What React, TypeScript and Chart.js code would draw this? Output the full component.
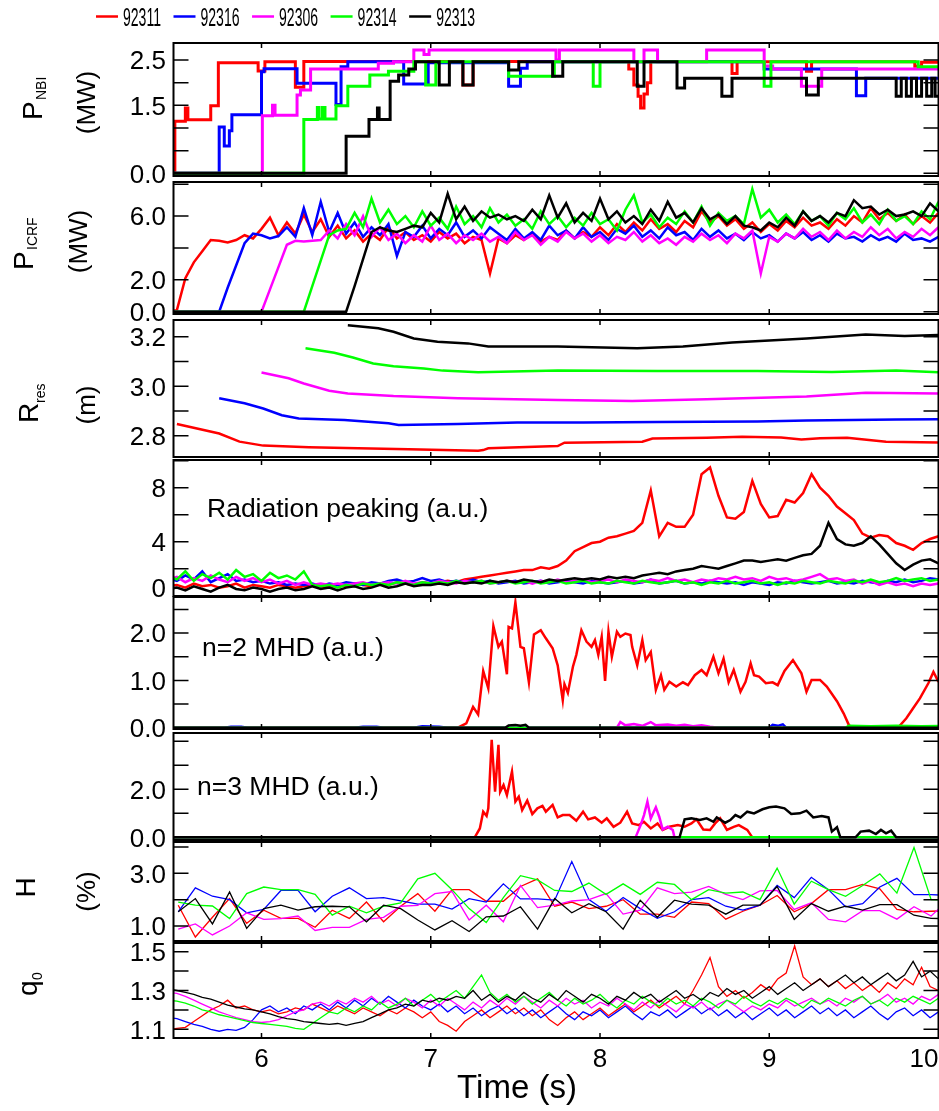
import React, { useEffect, useRef } from "react";
import { Chart, registerables } from "chart.js";

Chart.register(...registerables);

type Pair = [number, number];

// ---------------- shots ----------------
const shotLabels = ["92311", "92316", "92306", "92314", "92313"];
const shotColors = ["#ff0000", "#0000ff", "#ff00ff", "#00ff00", "#000000"];

// ---------------- time axis ----------------
const timeRange: Pair = [5.48, 10.0];
const timeTicks = [6, 7, 8, 9, 10];
const timeTickLabels = ["6", "7", "8", "9", "10"];

// uniformly sampled signals (ICRF power, radiation peaking, q0)
const fastT0 = 5.45;
const fastDt = 0.05;
// H (fast-ion fraction) sampling
const hT0 = 5.508;
const hDt = 0.1011;

// ---------------- P_NBI (MW), step signals [t, P] ----------------
const pnbi92311: Pair[] = [[5.40,0],[5.488,1.15],[5.55,1.44],[5.565,1.18],[5.70,1.49],[5.745,2.44],[5.98,2.26],[6.02,2.46],[6.20,1.9],[6.25,2.47],[7.19,1.95],[7.25,2.47],[8.17,2.3],[8.20,1.95],[8.225,1.7],[8.24,1.44],[8.26,1.75],[8.28,2.0],[8.30,2.47],[8.78,2.2],[8.81,2.46],[9.22,2.25],[9.25,2.46],[9.86,2.36],[9.90,2.45],[10.05,2.45]];
const pnbi92316: Pair[] = [[5.40,0],[5.75,1.02],[5.78,0.6],[5.81,0.94],[5.825,1.29],[6.0,2.24],[6.015,2.31],[6.21,1.99],[6.44,1.52],[6.47,2.35],[6.51,2.46],[6.84,1.97],[6.985,2.44],[7.46,1.92],[7.53,2.32],[7.57,2.46],[8.97,2.3],[9.515,1.71],[9.57,2.1],[10.05,2.1]];
const pnbi92306: Pair[] = [[5.40,0],[6.005,1.27],[6.065,1.5],[6.08,1.28],[6.21,1.73],[6.23,1.84],[6.29,2.3],[6.69,2.43],[6.78,2.46],[6.90,2.72],[6.96,2.62],[6.99,2.72],[7.74,2.5],[7.76,2.72],[8.20,2.46],[8.26,2.72],[8.34,2.46],[8.63,2.72],[8.97,2.37],[9.02,2.3],[9.19,1.92],[9.31,2.3],[10.05,2.3]];
const pnbi92314: Pair[] = [[5.40,0],[6.25,1.19],[6.33,1.45],[6.34,1.2],[6.36,1.45],[6.375,1.2],[6.44,1.49],[6.51,1.92],[6.64,2.17],[6.75,2.25],[6.90,2.46],[6.97,1.95],[7.03,2.46],[7.46,2.14],[7.73,2.46],[7.96,1.92],[8.00,2.46],[8.97,1.92],[9.01,2.46],[9.88,2.35],[10.05,2.35]];
const pnbi92313: Pair[] = [[5.40,0],[6.50,0.82],[6.635,1.19],[6.685,1.44],[6.695,1.19],[6.76,2.03],[6.81,2.17],[6.87,2.3],[6.91,2.46],[7.05,1.95],[7.11,2.46],[7.19,1.95],[7.25,2.46],[7.46,2.28],[7.52,2.46],[7.72,2.14],[7.78,2.46],[8.22,1.92],[8.26,2.46],[8.455,1.88],[8.50,2.1],[8.72,1.7],[8.78,2.1],[9.22,1.73],[9.29,2.1],[9.75,1.7],[9.78,2.1],[9.81,1.7],[9.84,2.1],[9.87,1.7],[9.90,2.1],[9.93,1.7],[9.96,2.1],[9.98,1.7],[10.05,1.7]];
const pnbiTicks = [0, 1.5, 2.5];
const pnbiTickLabels = ["0.0", "1.5", "2.5"];
const pnbiMinor = [0.5, 1.0, 2.0];

// ---------------- P_ICRF (MW), sampled from fastT0 every fastDt ----------------
const icrf92311 = [
  0, 0.1, 2.1, 3.1, 3.8, 4.5, 4.45, 4.35, 4.5, 4.8,
  4.6, 5.2, 5.9, 4.8, 5.6, 4.9, 6.1, 5.0, 5.8, 4.7,
  5.4, 4.6, 5.1, 4.4, 4.9, 4.5, 5.3, 4.6, 5.0, 4.5,
  4.8, 4.4, 5.0, 4.6, 4.9, 4.3, 4.7, 4.5, 2.4, 4.6,
  4.3, 4.8, 4.5, 4.9, 4.4, 4.7, 4.5, 5.1, 4.6, 5.0,
  4.7, 5.3, 4.8, 5.5, 5.0, 5.6, 5.1, 5.8, 5.2, 5.5,
  5.0, 5.7, 5.3, 6.3, 5.6, 6.0, 5.4, 5.8, 5.2, 5.6,
  5.0, 5.5, 5.1, 5.7, 5.3, 5.9, 5.4, 5.6, 5.2, 5.8,
  5.4, 6.0, 5.6, 6.5, 5.8, 6.2, 5.7, 6.1, 5.5, 6.0,
  5.6, 6.2,
];
const icrf92316 = [
  0, 0, 0, 0, 0, 0, 0, 1.5, 2.9, 4.3,
  4.9, 4.8, 4.6, 4.75, 5.3, 4.7, 6.5, 4.8, 6.9, 5.0,
  6.2, 4.9, 5.6, 4.7, 5.3, 4.8, 5.5, 3.5, 5.0, 4.7,
  5.4, 4.6, 5.2, 4.8, 5.6, 4.7, 5.1, 4.6, 5.3, 4.9,
  4.5, 5.2, 4.6, 5.0, 4.5, 5.4, 4.8, 5.1, 4.6, 5.3,
  4.7, 5.0, 4.5, 5.2, 4.9, 5.4, 4.7, 5.1, 4.6, 5.3,
  4.8, 5.0, 4.5, 5.2, 4.7, 5.1, 4.6, 4.9, 4.5, 5.0,
  4.6, 4.8, 4.4, 4.9, 4.6, 5.0, 4.5, 4.8, 4.4, 4.9,
  4.6, 4.7, 4.4, 4.8, 4.5, 4.7, 4.4, 4.9, 4.5, 4.6,
  4.4, 4.7,
];
const icrf92306 = [
  0, 0, 0, 0, 0, 0, 0, 0, 0, 0,
  0, 0, 1.4, 2.8, 4.2, 4.45, 4.4, 4.45, 4.5, 5.1,
  4.6, 5.5, 4.8, 6.0, 4.7, 5.3, 4.5, 4.9, 4.3, 4.8,
  4.4, 5.4, 4.5, 4.9, 4.3, 4.8, 4.5, 4.9, 4.4, 4.7,
  4.3, 5.0, 4.5, 4.8, 4.2, 4.7, 4.4, 5.0, 4.6, 4.9,
  4.4, 4.8, 4.3, 4.7, 4.5, 5.0, 4.4, 4.8, 4.3, 4.6,
  4.2, 4.7, 4.4, 4.9, 4.5, 4.8, 4.3, 4.9, 4.6, 5.1,
  2.4, 4.7, 4.4, 4.9, 4.6, 5.2, 4.7, 5.0, 4.5, 5.1,
  4.6, 5.0, 4.7, 5.3, 4.8, 5.2, 4.6, 5.0, 4.7, 5.2,
  4.8, 5.3,
];
const icrf92314 = [
  0, 0, 0, 0, 0, 0, 0, 0, 0, 0,
  0, 0, 0, 0, 0, 0, 0, 1.6, 3.2, 4.8,
  5.1, 5.2, 6.2, 5.3, 7.1, 5.6, 6.4, 5.5, 6.0, 5.3,
  6.3, 5.4, 5.9, 5.2, 6.6, 5.5, 6.0, 5.3, 6.5, 5.6,
  6.1, 5.4, 5.8, 5.2, 6.3, 5.5, 6.0, 5.3, 5.9, 5.4,
  6.2, 5.5, 5.8, 5.1, 6.4, 7.3, 5.6, 6.1, 5.3, 5.9,
  5.5, 6.3, 5.6, 6.6, 5.4, 6.2, 5.7, 6.0, 5.5, 7.7,
  5.9, 6.4, 5.6, 6.1, 5.5, 6.3, 5.7, 6.0, 5.4, 6.2,
  5.8, 6.5, 5.6, 6.1, 5.5, 6.4, 5.7, 6.0, 5.5, 6.3,
  5.8, 6.9,
];
const icrf92313 = [
  0, 0, 0, 0, 0, 0, 0, 0, 0, 0,
  0, 0, 0, 0, 0, 0, 0, 0, 0, 0,
  0, 0, 1.6, 3.3, 5.0, 5.3, 5.1, 5.0, 5.2, 5.4,
  5.3, 6.2, 5.6, 7.4, 5.8, 6.6, 5.7, 6.3, 5.9, 6.1,
  5.8, 6.0, 5.7, 6.4, 5.8, 7.3, 5.9, 6.8, 5.6, 6.2,
  5.7, 7.1, 5.8, 6.3, 5.6, 6.0, 5.5, 6.4, 5.7, 6.9,
  5.9, 6.2, 5.6, 6.5, 5.8, 6.1, 5.5, 6.0, 5.4, 5.3,
  5.1, 5.6, 5.3, 5.9, 5.4, 6.3, 5.7, 6.0, 5.6, 6.2,
  6.0, 7.0, 6.5, 6.6, 6.1, 6.4, 6.0, 6.1, 6.3, 6.0,
  6.8, 6.3,
];
const icrfTicks = [0, 2, 6];
const icrfTickLabels = ["0.0", "2.0", "6.0"];
const icrfMinor = [4, 8];

// ---------------- R_res (m), [t, R] ----------------
const rres92311: Pair[] = [[5.50,2.847],[5.75,2.809],[5.87,2.776],[6.01,2.76],[6.28,2.753],[6.57,2.749],[6.87,2.745],[7.28,2.739],[7.31,2.742],[7.34,2.749],[7.75,2.758],[7.79,2.772],[8.25,2.776],[8.31,2.789],[8.63,2.792],[8.84,2.796],[9.07,2.793],[9.19,2.785],[9.30,2.79],[9.46,2.792],[9.69,2.776],[10.0,2.773]];
const rres92316: Pair[] = [[5.75,2.951],[5.9,2.931],[6.01,2.91],[6.12,2.883],[6.22,2.87],[6.49,2.863],[6.75,2.85],[6.81,2.843],[7.16,2.847],[7.51,2.853],[7.9,2.853],[8.34,2.855],[8.93,2.857],[9.22,2.861],[9.75,2.866],[10.0,2.867]];
const rres92306: Pair[] = [[6.0,3.055],[6.16,3.032],[6.25,3.011],[6.4,2.982],[6.51,2.971],[6.78,2.96],[7.16,2.951],[7.75,2.944],[8.19,2.94],[8.63,2.947],[9.22,2.958],[9.57,2.974],[10.0,2.971]];
const rres92314: Pair[] = [[6.26,3.153],[6.43,3.135],[6.54,3.116],[6.66,3.092],[6.78,3.081],[6.96,3.072],[7.07,3.063],[7.28,3.056],[7.75,3.063],[8.34,3.061],[8.93,3.061],[9.37,3.057],[9.75,3.063],[10.0,3.056]];
const rres92313: Pair[] = [[6.51,3.246],[6.69,3.234],[6.78,3.22],[6.9,3.193],[7.04,3.18],[7.22,3.173],[7.34,3.16],[7.75,3.16],[8.22,3.153],[8.49,3.16],[8.78,3.177],[9.22,3.193],[9.57,3.209],[9.8,3.203],[10.0,3.207]];
const rresTicks = [2.8, 3.0, 3.2];
const rresTickLabels = ["2.8", "3.0", "3.2"];
const rresMinor = [2.9, 3.1];

// ---------------- radiation peaking (a.u.), sampled ----------------
const rad92311 = [
  0.7, 0.8, 0.6, 0.9, 0.7, 0.8, 0.6, 0.7, 0.9, 0.6,
  0.8, 0.7, 0.6, 0.8, 0.7, 0.6, 0.7, 0.8, 0.7, 0.6,
  0.8, 0.7, 0.9, 0.8, 0.7, 0.9, 0.8, 1.0, 0.9, 0.8,
  1.0, 0.9, 1.0, 1.1, 1.0, 1.2, 1.3, 1.4, 1.5, 1.6,
  1.7, 1.8, 1.9, 1.9, 2.1, 2.0, 2.2, 2.6, 3.3, 3.6,
  3.9, 4.0, 4.3, 4.4, 4.6, 4.8, 5.4, 7.8, 4.4, 5.4,
  5.1, 5.1, 6.0, 9.0, 9.5, 7.4, 5.8, 5.7, 6.2, 8.5,
  6.8, 5.8, 5.9, 7.1, 6.9, 7.6, 9.0, 8.0, 7.4, 6.6,
  6.1, 5.6, 4.6, 4.3, 4.5, 4.4, 3.9, 3.7, 3.4, 3.9,
  4.2, 4.4,
];
const rad92316 = [
  1.3, 1.1, 1.5, 1.2, 1.8, 1.0, 1.3, 1.6, 1.1, 1.2,
  1.0, 1.1, 0.9, 1.0, 0.8, 0.9, 0.8, 0.9, 0.7, 0.9,
  0.8, 1.0, 0.9, 0.8, 1.0, 0.9, 1.1, 1.2, 1.0, 1.1,
  1.3, 1.1, 1.2, 1.0, 1.1, 1.0, 1.2, 1.0, 1.1, 0.9,
  1.0, 1.1, 0.9, 1.0, 1.1, 0.9, 1.0, 1.1, 1.0, 0.9,
  1.1, 1.0, 0.9, 1.0, 1.1, 0.9, 1.0, 1.2, 0.9, 1.0,
  1.1, 0.9, 1.0, 0.9, 1.1, 1.0, 0.9, 1.0, 0.8, 1.0,
  0.9, 0.8, 1.0, 0.9, 1.1, 1.0, 0.9, 1.0, 1.1, 0.9,
  1.0, 0.9, 1.1, 1.0, 0.9, 1.1, 1.0, 1.2, 1.0, 1.1,
  1.3, 1.2,
];
const rad92306 = [
  1.2, 1.4, 1.0, 1.3, 1.1, 1.5, 1.2, 1.0, 1.4, 1.1,
  1.3, 1.0, 1.2, 0.9, 1.1, 0.8, 1.0, 0.8, 0.9, 0.8,
  0.9, 0.8, 0.9, 1.0, 0.8, 0.9, 1.0, 0.9, 1.1, 0.9,
  1.0, 0.9, 1.1, 1.0, 0.9, 1.1, 1.0, 1.1, 0.9, 1.0,
  1.1, 1.0, 1.1, 0.9, 1.1, 1.0, 1.2, 1.0, 1.1, 1.2,
  1.0, 1.1, 1.2, 1.0, 1.2, 1.1, 1.0, 1.2, 1.1, 1.3,
  1.1, 1.2, 1.0, 1.2, 1.1, 1.3, 1.2, 1.4, 1.2, 1.3,
  1.1, 1.4, 1.2, 1.3, 1.1, 1.2, 1.4, 1.6, 1.2, 1.3,
  1.1, 1.2, 0.9, 1.1, 0.8, 1.0, 0.8, 0.9, 0.7, 0.9,
  0.8, 0.9,
];
const rad92314 = [
  1.5, 1.2, 1.8, 1.1, 1.6, 1.3, 1.7, 1.2, 1.9, 1.4,
  1.6, 1.1, 1.7, 1.3, 1.5, 1.2, 1.8, 0.8, 0.7, 0.8,
  0.6, 0.8, 0.7, 0.9, 0.8, 0.9, 0.8, 1.0, 0.9, 0.8,
  1.0, 0.9, 1.0, 0.9, 1.1, 0.9, 1.0, 1.1, 0.9, 1.0,
  1.1, 0.9, 1.0, 1.1, 0.9, 1.0, 1.1, 0.9, 1.0, 1.1,
  0.9, 1.0, 0.9, 1.1, 1.0, 0.9, 1.1, 1.0, 0.9, 1.0,
  1.1, 0.9, 1.0, 0.8, 1.0, 0.9, 1.1, 0.9, 1.0, 1.1,
  0.9, 1.0, 0.8, 1.0, 0.9, 1.1, 1.0, 0.9, 1.1, 1.0,
  0.9, 1.1, 1.0, 1.2, 1.0, 1.1, 1.3, 1.1, 1.2, 1.3,
  1.1, 1.2,
];
const rad92313 = [
  0.5, 0.6, 0.4, 0.7, 0.5, 0.3, 0.6, 0.8, 0.5, 0.4,
  0.6, 0.5, 0.3, 0.5, 0.6, 0.4, 0.5, 0.7, 0.5, 0.6,
  0.4, 0.6, 0.7, 0.5, 0.6, 0.8, 0.6, 0.7, 0.9, 0.7,
  0.8, 0.8, 0.9, 0.8, 1.0, 0.9, 1.0, 0.9, 1.1, 1.0,
  1.1, 1.0, 1.2, 1.1, 1.0, 1.2, 1.1, 1.2, 1.3, 1.2,
  1.3, 1.2, 1.4, 1.3, 1.4, 1.3, 1.5, 1.6, 1.7, 1.6,
  1.8, 1.9, 2.0, 2.2, 2.1, 2.0, 2.2, 2.4, 2.6, 2.6,
  2.5, 2.6, 2.7, 2.6, 2.8, 3.0, 3.1, 3.7, 5.4, 4.2,
  3.8, 3.7, 3.9, 4.4, 3.8, 3.1, 2.4, 1.9, 2.3, 2.6,
  2.7, 2.4,
];
const radTicks = [0, 4, 8];
const radTickLabels = ["0", "4", "8"];
const radMinor = [2, 6, 10];

// ---------------- n=2 MHD amplitude (a.u.), [t, A] ----------------
const n2m92311: Pair[] = [[5.40,0],[7.16,0],[7.21,0.09],[7.25,0.44],[7.28,0.28],[7.31,1.2],[7.34,0.83],[7.37,2.15],[7.40,1.71],[7.42,1.82],[7.45,1.13],[7.46,2.13],[7.48,2.1],[7.50,2.65],[7.53,1.71],[7.55,1.68],[7.58,0.96],[7.61,1.97],[7.65,2.06],[7.68,1.89],[7.72,1.68],[7.75,1.32],[7.78,0.58],[7.79,0.92],[7.81,0.74],[7.84,1.29],[7.86,1.54],[7.89,2.06],[7.92,1.82],[7.95,1.71],[7.97,1.85],[7.99,1.54],[8.01,1.92],[8.03,0.99],[8.05,2.03],[8.07,1.5],[8.10,2.03],[8.12,1.92],[8.15,1.99],[8.18,1.96],[8.19,1.71],[8.22,1.32],[8.25,1.85],[8.27,1.43],[8.30,1.6],[8.33,0.8],[8.36,1.11],[8.38,0.8],[8.41,0.97],[8.45,0.87],[8.49,0.96],[8.52,0.9],[8.56,1.11],[8.60,1.22],[8.63,1.11],[8.67,1.5],[8.70,1.15],[8.73,1.46],[8.76,0.96],[8.79,1.22],[8.83,0.76],[8.86,0.97],[8.89,1.36],[8.91,1.11],[8.94,1.08],[8.98,0.94],[9.02,0.96],[9.05,0.9],[9.09,1.2],[9.14,1.43],[9.19,1.15],[9.22,0.76],[9.25,1.01],[9.30,1.01],[9.34,0.87],[9.40,0.56],[9.44,0.30],[9.47,0.06],[9.49,0],[9.76,0],[9.81,0.2],[9.85,0.41],[9.89,0.62],[9.94,0.94],[9.97,1.18],[10.0,0.97],[10.05,1.0]];
const n2m92316: Pair[] = [[5.40,0],[5.78,0],[5.82,0.02],[5.88,0.02],[5.92,0],[6.55,0],[6.6,0.02],[6.68,0.02],[6.72,0],[6.9,0],[6.95,0.03],[7.05,0.02],[7.1,0],[9.0,0],[9.02,0.06],[9.05,0.04],[9.08,0.07],[9.1,0],[10.05,0]];
const n2m92306: Pair[] = [[5.40,0],[8.1,0],[8.12,0.12],[8.15,0.05],[8.2,0.08],[8.25,0.04],[8.3,0.12],[8.33,0.05],[8.4,0.07],[8.45,0.04],[8.5,0.06],[8.55,0.03],[8.6,0.05],[8.65,0.02],[8.7,0],[10.05,0]];
const n2m92314: Pair[] = [[5.40,0],[9.45,0],[9.47,0.04],[9.6,0.03],[9.75,0.04],[9.9,0.03],[10.05,0.04]];
const n2m92313: Pair[] = [[5.40,0],[7.44,0],[7.46,0.05],[7.5,0.06],[7.53,0.04],[7.56,0.06],[7.58,0],[10.05,0]];
const n2Ticks = [0, 1, 2];
const n2TickLabels = ["0.0", "1.0", "2.0"];
const n2Minor = [0.5, 1.5, 2.5];

// ---------------- n=3 MHD amplitude (a.u.), [t, A] ----------------
const n3m92311: Pair[] = [[5.40,0],[7.26,0],[7.29,0.37],[7.31,1.07],[7.33,0.89],[7.34,1.21],[7.36,4.06],[7.38,1.9],[7.40,3.85],[7.41,1.9],[7.43,2.18],[7.45,1.76],[7.48,2.74],[7.50,1.49],[7.52,1.69],[7.54,1.14],[7.57,1.53],[7.60,0.97],[7.63,1.21],[7.66,1.31],[7.68,1.07],[7.72,1.35],[7.75,0.83],[7.78,0.93],[7.82,0.93],[7.86,0.69],[7.90,1.07],[7.93,0.75],[7.97,0.83],[8.01,0.61],[8.04,0.79],[8.08,0.44],[8.12,0.61],[8.16,1.07],[8.19,0.58],[8.23,0.51],[8.26,0.65],[8.30,0.37],[8.34,0.58],[8.37,0.31],[8.41,0.44],[8.46,0.51],[8.50,0.44],[8.54,0.58],[8.57,0.75],[8.61,0.33],[8.65,0.31],[8.68,0.58],[8.71,0.79],[8.75,0.31],[8.79,0.44],[8.82,0.51],[8.87,0.31],[8.90,0],[10.05,0]];
const n3m92316: Pair[] = [[5.40,0],[10.05,0]];
const n3m92306: Pair[] = [[5.40,0],[8.21,0],[8.24,0.51],[8.26,0.93],[8.28,1.49],[8.30,0.79],[8.33,1.25],[8.35,0.86],[8.37,0.33],[8.40,0.44],[8.43,0.31],[8.44,0],[10.05,0]];
const n3m92314: Pair[] = [[5.40,0],[10.05,0]];
const n3m92313: Pair[] = [[5.40,0],[8.47,0],[8.50,0.75],[8.54,0.79],[8.59,0.72],[8.63,0.79],[8.67,0.65],[8.69,0.83],[8.74,0.61],[8.77,0.72],[8.80,0.93],[8.83,0.83],[8.87,1.07],[8.91,1.0],[8.96,1.17],[9.00,1.25],[9.04,1.28],[9.09,1.21],[9.13,0.97],[9.18,1.0],[9.22,1.11],[9.26,0.83],[9.31,0.89],[9.35,0.83],[9.37,0.24],[9.40,0.42],[9.42,0],[9.51,0],[9.54,0.24],[9.59,0.28],[9.63,0.14],[9.66,0.31],[9.69,0.17],[9.72,0.28],[9.75,0],[10.05,0]];
const n3Ticks = [0, 2];
const n3TickLabels = ["0.0", "2.0"];
const n3Minor = [1, 3, 4];

// ---------------- H (%), sampled from hT0 every hDt ----------------
const h92311 = [1.79, 0.58, 1.33, 2.04, 1.10, 1.60, 1.29, 1.29, 0.95, 1.60, 1.29, 1.91, 1.16, 1.75, 2.23, 1.56, 2.38, 2.38, 1.94, 1.94, 2.50, 2.79, 1.75, 1.91, 1.66, 1.75, 2.00, 1.45, 1.45, 1.33, 1.91, 1.85, 1.26, 1.56, 1.79, 2.16, 1.54, 1.85, 2.38, 2.38, 2.58, 2.41, 1.63, 1.54, 1.56, 1.58];
const h92316 = [1.54, 2.45, 2.13, 2.00, 1.50, 1.63, 2.35, 2.35, 1.54, 2.13, 2.45, 2.04, 2.08, 1.95, 1.83, 1.83, 1.64, 2.04, 1.91, 2.60, 2.03, 2.03, 1.98, 3.45, 2.00, 1.56, 2.08, 1.66, 1.29, 1.54, 2.00, 2.08, 1.75, 1.60, 1.79, 2.54, 2.08, 2.85, 2.38, 1.73, 1.85, 2.48, 2.81, 2.19, 2.19, 2.16];
const h92306 = [0.88, 1.08, 0.66, 1.00, 1.50, 1.25, 1.28, 1.38, 0.83, 0.95, 0.95, 1.25, 1.33, 1.75, 1.78, 2.23, 2.31, 1.23, 1.79, 1.16, 2.54, 1.70, 1.79, 1.95, 2.00, 2.23, 1.45, 1.60, 2.45, 2.23, 2.29, 2.50, 2.20, 2.00, 2.33, 2.35, 1.63, 1.88, 1.25, 1.16, 1.58, 1.58, 1.26, 1.73, 1.38, 1.98];
const h92314 = [1.91, 1.79, 1.76, 1.28, 2.23, 2.48, 2.38, 2.38, 2.20, 1.41, 1.75, 1.50, 1.75, 1.88, 2.79, 3.00, 2.38, 1.66, 1.13, 2.08, 2.91, 2.75, 2.35, 2.31, 2.63, 2.20, 2.60, 2.20, 2.66, 2.58, 2.00, 2.38, 2.25, 2.29, 2.00, 3.20, 1.83, 2.70, 2.38, 2.13, 2.54, 2.98, 2.25, 3.98, 2.00, 1.98];
const h92313 = [1.54, 2.04, 1.08, 2.29, 0.91, 1.66, 1.79, 1.60, 1.73, 1.75, 1.73, 1.16, 1.79, 1.66, 1.23, 0.85, 1.20, 0.79, 1.35, 1.38, 1.73, 0.88, 2.04, 1.50, 1.85, 1.54, 0.88, 1.98, 1.33, 1.98, 1.83, 1.79, 1.45, 1.79, 1.79, 2.50, 1.25, 1.85, 1.56, 1.75, 1.60, 1.81, 1.81, 1.41, 1.29, 1.28];
const hTicks = [1, 3];
const hTickLabels = ["1.0", "3.0"];
const hMinor = [2, 4];

// ---------------- q0, sampled from fastT0 every fastDt ----------------
const q92311 = [
  1.10, 1.105, 1.11, 1.14, 1.17, 1.20, 1.22, 1.25, 1.21, 1.22,
  1.20, 1.19, 1.20, 1.18, 1.19, 1.21, 1.20, 1.23, 1.21, 1.19,
  1.22, 1.20, 1.18, 1.21, 1.19, 1.17, 1.20, 1.18, 1.21, 1.19,
  1.16, 1.19, 1.14, 1.12, 1.09, 1.14, 1.17, 1.20, 1.16, 1.19,
  1.22, 1.18, 1.21, 1.17, 1.20, 1.15, 1.12, 1.16, 1.19, 1.15,
  1.18, 1.21, 1.17, 1.20, 1.23, 1.19, 1.22, 1.25, 1.21, 1.24,
  1.27, 1.23, 1.30, 1.38, 1.47, 1.32, 1.27, 1.30, 1.26, 1.29,
  1.33, 1.30, 1.36, 1.39, 1.53, 1.37, 1.33, 1.36, 1.32, 1.35,
  1.31, 1.34, 1.30, 1.33, 1.29, 1.34, 1.31, 1.36, 1.33, 1.42,
  1.32, 1.30,
];
const q92316 = [
  1.16, 1.155, 1.14, 1.125, 1.115, 1.10, 1.09, 1.10, 1.095, 1.11,
  1.15, 1.20, 1.22, 1.19, 1.21, 1.18, 1.22, 1.20, 1.23, 1.20,
  1.24, 1.21, 1.25, 1.22, 1.26, 1.23, 1.27, 1.24, 1.21, 1.25,
  1.22, 1.20, 1.23, 1.19, 1.22, 1.18, 1.21, 1.17, 1.20, 1.22,
  1.18, 1.21, 1.17, 1.20, 1.16, 1.19, 1.22, 1.18, 1.15, 1.19,
  1.17, 1.20, 1.16, 1.19, 1.22, 1.18, 1.15, 1.19, 1.17, 1.20,
  1.16, 1.19, 1.22, 1.18, 1.21, 1.17, 1.20, 1.16, 1.19, 1.15,
  1.18, 1.21, 1.17, 1.20, 1.16, 1.19, 1.22, 1.18, 1.21, 1.17,
  1.20, 1.16, 1.19, 1.22, 1.18, 1.15, 1.19, 1.21, 1.17, 1.20,
  1.16, 1.19,
];
const q92306 = [
  1.29, 1.285, 1.27, 1.25, 1.23, 1.21, 1.19, 1.175, 1.16, 1.15,
  1.14, 1.135, 1.14, 1.15, 1.17, 1.19, 1.20, 1.23, 1.24, 1.22,
  1.25, 1.23, 1.26, 1.24, 1.27, 1.23, 1.25, 1.22, 1.26, 1.24,
  1.21, 1.25, 1.22, 1.26, 1.23, 1.20, 1.24, 1.21, 1.25, 1.22,
  1.26, 1.23, 1.27, 1.24, 1.21, 1.25, 1.22, 1.26, 1.23, 1.25,
  1.21, 1.24, 1.22, 1.26, 1.23, 1.20, 1.24, 1.21, 1.25, 1.22,
  1.19, 1.23, 1.21, 1.24, 1.20, 1.23, 1.25, 1.22, 1.19, 1.22,
  1.20, 1.23, 1.21, 1.25, 1.22, 1.24, 1.26, 1.23, 1.25, 1.22,
  1.26, 1.24, 1.27, 1.23, 1.25, 1.28, 1.24, 1.26, 1.23, 1.27,
  1.25, 1.28,
];
const q92314 = [
  1.25, 1.245, 1.235, 1.22, 1.20, 1.19, 1.175, 1.165, 1.155, 1.145,
  1.135, 1.13, 1.125, 1.12, 1.115, 1.105, 1.10, 1.13, 1.16, 1.19,
  1.18, 1.21, 1.19, 1.22, 1.20, 1.24, 1.21, 1.23, 1.26, 1.22,
  1.25, 1.28, 1.24, 1.27, 1.30, 1.26, 1.32, 1.38, 1.29, 1.25,
  1.28, 1.24, 1.27, 1.23, 1.26, 1.29, 1.25, 1.22, 1.26, 1.23,
  1.25, 1.28, 1.24, 1.21, 1.25, 1.23, 1.27, 1.24, 1.22, 1.26,
  1.23, 1.25, 1.22, 1.26, 1.24, 1.21, 1.25, 1.23, 1.27, 1.24,
  1.22, 1.25, 1.23, 1.26, 1.24, 1.21, 1.25, 1.23, 1.26, 1.24,
  1.22, 1.25, 1.27, 1.23, 1.25, 1.22, 1.26, 1.24, 1.27, 1.25,
  1.23, 1.26,
];
const q92313 = [
  1.31, 1.30, 1.29, 1.28, 1.265, 1.255, 1.24, 1.225, 1.215, 1.205,
  1.20, 1.19, 1.18, 1.165, 1.155, 1.15, 1.14, 1.135, 1.13, 1.125,
  1.13, 1.12, 1.13, 1.14, 1.16, 1.18, 1.20, 1.21, 1.23, 1.22,
  1.25, 1.24, 1.26, 1.25, 1.27, 1.26, 1.30, 1.25, 1.28, 1.24,
  1.27, 1.25, 1.29, 1.26, 1.24, 1.28, 1.25, 1.30, 1.27, 1.24,
  1.28, 1.26, 1.23, 1.27, 1.25, 1.29, 1.26, 1.28, 1.24, 1.27,
  1.30, 1.26, 1.28, 1.25, 1.29, 1.27, 1.31, 1.28, 1.30, 1.26,
  1.29, 1.32, 1.28, 1.31, 1.34, 1.30, 1.33, 1.36, 1.32, 1.35,
  1.38, 1.34, 1.37, 1.33, 1.36, 1.39, 1.35, 1.38, 1.45, 1.37,
  1.40, 1.36,
];
const qTicks = [1.1, 1.3, 1.5];
const qTickLabels = ["1.1", "1.3", "1.5"];
const qMinor = [1.2, 1.4];

// ---------------- helpers ----------------
const sampled = (t0: number, dt: number, vals: number[]): Pair[] =>
  vals.map((v, i) => [t0 + i * dt, v] as Pair);

const FONT = '"Liberation Sans", Arial, Helvetica, sans-serif';
const PAGE_W = 939;
const PLOT_LEFT = 173.5;
const PLOT_RIGHT = 938.5;

interface Title { text: string; size: number; x: number; y: number; align: CanvasTextAlign; }
interface PanelSpec {
  key: string;
  series: Pair[][];
  yRange: Pair;
  ticks: number[];
  tickLabels: string[];
  minor: number[];
  lineWidth: number;
  stepped?: boolean;
  top: number; bottom: number; canvasTop: number; canvasBottom: number;
  titles: Title[];
  note?: { text: string; x: number; y: number };
  labelLift?: number[];
  legend?: boolean;
  timeAxis?: boolean;
}

const panels: PanelSpec[] = [
  {
    key: "pnbi", series: [pnbi92311, pnbi92316, pnbi92306, pnbi92314, pnbi92313],
    yRange: [-0.06, 2.876], ticks: pnbiTicks, tickLabels: pnbiTickLabels, minor: pnbiMinor,
    lineWidth: 3, stepped: true, top: 43, bottom: 176, canvasTop: 0, canvasBottom: 200, legend: true,
    titles: [
      { text: "P", size: 28, x: 42, y: 120, align: "left" },
      { text: "NBI", size: 14, x: 46, y: 100, align: "left" },
      { text: "(MW)", size: 26, x: 95, y: 102.5, align: "center" },
    ],
  },
  {
    key: "icrf",
    series: [icrf92311, icrf92316, icrf92306, icrf92314, icrf92313].map((v) => sampled(fastT0, fastDt, v)),
    yRange: [-0.144, 8.14], ticks: icrfTicks, tickLabels: icrfTickLabels, minor: icrfMinor,
    lineWidth: 2.5, top: 182, bottom: 314, canvasTop: 160, canvasBottom: 336,
    titles: [
      { text: "P", size: 28, x: 33, y: 270, align: "left" },
      { text: "ICRF", size: 14, x: 37, y: 250, align: "left" },
      { text: "(MW)", size: 26, x: 87, y: 241.5, align: "center" },
    ],
  },
  {
    key: "rres", series: [rres92311, rres92316, rres92306, rres92314, rres92313],
    yRange: [2.714, 3.2675], ticks: rresTicks, tickLabels: rresTickLabels, minor: rresMinor,
    lineWidth: 2.5, top: 320, bottom: 457, canvasTop: 298, canvasBottom: 478,
    titles: [
      { text: "R", size: 28, x: 38, y: 423, align: "left" },
      { text: "res", size: 14, x: 45, y: 403, align: "left" },
      { text: "(m)", size: 26, x: 95, y: 405, align: "center" },
    ],
  },
  {
    key: "rad",
    series: [rad92311, rad92316, rad92306, rad92314, rad92313].map((v) => sampled(fastT0, fastDt, v)),
    yRange: [-0.02, 10.05], ticks: radTicks, tickLabels: radTickLabels, minor: radMinor,
    lineWidth: 2.5, top: 460, bottom: 596, canvasTop: 440, canvasBottom: 616,
    titles: [], labelLift: [8, 0, 0],
    note: { text: "Radiation peaking (a.u.)", x: 207, y: 517 },
  },
  {
    key: "n2", series: [n2m92311, n2m92316, n2m92306, n2m92314, n2m92313],
    yRange: [-0.027, 2.763], ticks: n2Ticks, tickLabels: n2TickLabels, minor: n2Minor,
    lineWidth: 2.5, top: 597, bottom: 729, canvasTop: 577, canvasBottom: 750,
    titles: [], note: { text: "n=2 MHD (a.u.)", x: 202, y: 656 },
  },
  {
    key: "n3", series: [n3m92311, n3m92316, n3m92306, n3m92314, n3m92313],
    yRange: [-0.11, 4.346], ticks: n3Ticks, tickLabels: n3TickLabels, minor: n3Minor,
    lineWidth: 2.5, top: 733, bottom: 840, canvasTop: 712, canvasBottom: 860,
    titles: [], note: { text: "n=3 MHD (a.u.)", x: 197, y: 795 },
  },
  {
    key: "h",
    series: [h92311, h92316, h92306, h92314, h92313].map((v) => sampled(hT0, hDt, v)),
    yRange: [0.43, 4.19], ticks: hTicks, tickLabels: hTickLabels, minor: hMinor,
    lineWidth: 1.3, top: 842, bottom: 941, canvasTop: 822, canvasBottom: 962,
    titles: [
      { text: "H", size: 28, x: 35, y: 887.5, align: "center" },
      { text: "(%)", size: 26, x: 95, y: 891.5, align: "center" },
    ],
  },
  {
    key: "q0",
    series: [q92311, q92316, q92306, q92314, q92313].map((v) => sampled(fastT0, fastDt, v)),
    yRange: [1.0552, 1.5448], ticks: qTicks, tickLabels: qTickLabels, minor: qMinor,
    lineWidth: 1.3, top: 943, bottom: 1038, canvasTop: 922, canvasBottom: 1111, timeAxis: true,
    titles: [
      { text: "q", size: 28, x: 37, y: 996, align: "left" },
      { text: "0", size: 14, x: 42, y: 980, align: "left" },
    ],
  },
];

function makeDecor(p: PanelSpec) {
  return {
    id: "decor",
    afterDraw(chart: any) {
      const { ctx, chartArea: a } = chart;
      const xs = chart.scales.x;
      const ys = chart.scales.y;
      const oy = p.canvasTop;
      ctx.save();
      ctx.strokeStyle = "#000";
      ctx.fillStyle = "#000";

      // frame
      ctx.lineWidth = 2;
      ctx.strokeRect(a.left, a.top, a.right - a.left, a.bottom - a.top);

      // inward tick marks
      ctx.lineWidth = 1.5;
      ctx.beginPath();
      [...p.ticks, ...p.minor].forEach((v) => {
        const y = ys.getPixelForValue(v);
        if (y < a.top - 1 || y > a.bottom + 1) return;
        ctx.moveTo(a.left, y); ctx.lineTo(a.left + 15, y);
        ctx.moveTo(a.right - 15, y); ctx.lineTo(a.right, y);
      });
      timeTicks.forEach((t) => {
        const x = xs.getPixelForValue(t);
        if (x > a.right - 2) return;
        ctx.moveTo(x, a.top); ctx.lineTo(x, a.top + 5);
        ctx.moveTo(x, a.bottom - 5); ctx.lineTo(x, a.bottom);
      });
      ctx.stroke();

      // y tick labels
      ctx.font = `26px ${FONT}`;
      ctx.textAlign = "right";
      ctx.textBaseline = "alphabetic";
      p.ticks.forEach((v, i) => {
        const y = ys.getPixelForValue(v);
        const lift = p.labelLift ? p.labelLift[i] : 0;
        ctx.fillText(p.tickLabels[i], a.left - 7.5, y + 9.3 - lift);
      });

      // rotated axis titles
      p.titles.forEach((t) => {
        ctx.save();
        ctx.translate(t.x, t.y - oy);
        ctx.rotate(-Math.PI / 2);
        ctx.font = `${t.size}px ${FONT}`;
        ctx.textAlign = t.align;
        ctx.textBaseline = "alphabetic";
        ctx.fillText(t.text, 0, 0);
        ctx.restore();
      });

      // in-panel note
      if (p.note) {
        ctx.font = `26.5px ${FONT}`;
        ctx.textAlign = "left";
        ctx.fillText(p.note.text, p.note.x, p.note.y - oy);
      }

      // time axis labels and title
      if (p.timeAxis) {
        ctx.font = `26px ${FONT}`;
        timeTicks.forEach((t, i) => {
          const x = xs.getPixelForValue(t);
          const last = x > a.right - 2;
          ctx.textAlign = last ? "right" : "center";
          ctx.fillText(timeTickLabels[i], last ? a.right : x, 1067 - oy);
        });
        ctx.font = `33px ${FONT}`;
        ctx.textAlign = "center";
        ctx.fillText("Time (s)", 517, 1098 - oy);
      }

      // shot legend
      if (p.legend) {
        ctx.font = `26px ${FONT}`;
        ctx.textAlign = "left";
        let x = 96;
        chart.data.datasets.forEach((ds: any) => {
          ctx.strokeStyle = ds.borderColor;
          ctx.lineWidth = 2.5;
          ctx.beginPath();
          ctx.moveTo(x, 16.5); ctx.lineTo(x + 22, 16.5);
          ctx.stroke();
          const w = ctx.measureText(ds.label).width * 0.54;
          ctx.save();
          ctx.translate(x + 27, 25.5);
          ctx.scale(0.54, 1);
          ctx.fillStyle = "#000";
          ctx.fillText(ds.label, 0, 0);
          ctx.restore();
          x += 27 + w + 12.5;
        });
      }
      ctx.restore();
    },
  };
}

function Panel({ p }: { p: PanelSpec }) {
  const ref = useRef<HTMLCanvasElement>(null);
  const h = p.canvasBottom - p.canvasTop;
  useEffect(() => {
    const canvas = ref.current;
    if (!canvas) return;
    const chart = new Chart(canvas, {
      type: "line",
      data: {
        datasets: p.series.map((pts, i) => ({
          label: shotLabels[i],
          data: pts.map(([x, y]) => ({ x, y })),
          borderColor: shotColors[i],
          backgroundColor: shotColors[i],
          borderWidth: p.lineWidth,
          pointRadius: 0,
          fill: false,
          tension: 0,
          // hold each value until the next sample
          stepped: p.stepped ? "before" : false,
          order: shotLabels.length - i,
        })),
      },
      options: {
        responsive: false,
        animation: false,
        devicePixelRatio: 1,
        events: [],
        layout: {
          padding: {
            left: PLOT_LEFT,
            right: PAGE_W - PLOT_RIGHT,
            top: p.top - p.canvasTop,
            bottom: p.canvasBottom - p.bottom,
          },
        },
        scales: {
          x: { type: "linear", min: timeRange[0], max: timeRange[1], display: false },
          y: { type: "linear", min: p.yRange[0], max: p.yRange[1], display: false },
        },
        plugins: { legend: { display: false }, tooltip: { enabled: false } },
      } as any,
      plugins: [makeDecor(p)],
    });
    return () => chart.destroy();
  }, [p]);
  return (
    <canvas
      ref={ref}
      width={PAGE_W}
      height={h}
      style={{ position: "absolute", left: 0, top: p.canvasTop, width: PAGE_W, height: h }}
    />
  );
}

export default function App() {
  return (
    <div style={{ position: "absolute", left: 0, top: 0, width: PAGE_W, height: 1111, background: "#fff", overflow: "hidden" }}>
      {panels.map((p) => (
        <Panel key={p.key} p={p} />
      ))}
    </div>
  );
}
